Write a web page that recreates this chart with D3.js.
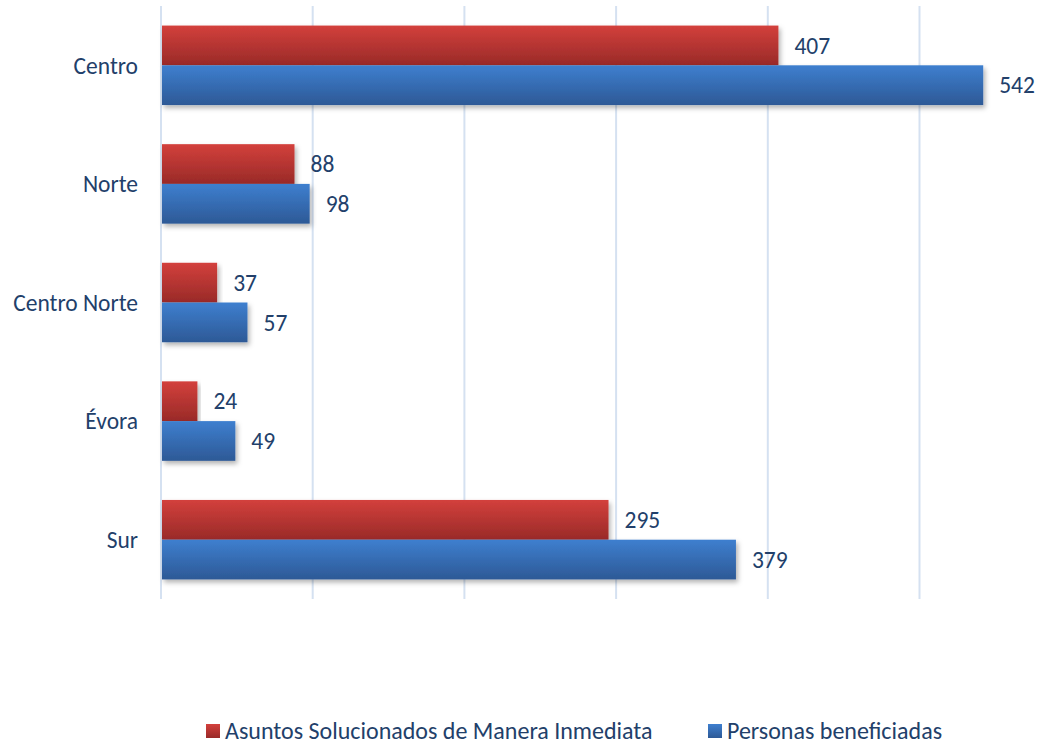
<!DOCTYPE html>
<html>
<head>
<meta charset="utf-8">
<script src="https://cdn.jsdelivr.net/npm/d3@7"></script>
<style>
  body { margin: 0; background: #fff; }
  text { font-family: Carlito, Lato, "Open Sans", sans-serif; fill: #22406a; }
</style>
</head>
<body>
<svg></svg>
<script>
const width = 1060;
const height = 744;

const categories = ['Centro', 'Norte', 'Centro Norte', 'Évora', 'Sur'];
const seriesNames = ['Asuntos Solucionados de Manera Inmediata', 'Personas beneficiadas'];
const asuntos = [407, 88, 37, 24, 295];
const personas = [542, 98, 57, 49, 379];
const gridTicks = [0, 100, 200, 300, 400, 500];

const margin = { top: 6, left: 161, bottom: 145 };

const svg = d3.select('svg')
  .attr('width', width)
  .attr('height', height);

const defs = svg.append('defs');
const grads = [
  { id: 'gRed', top: '#d3403c', bottom: '#992a28' },
  { id: 'gBlue', top: '#3e7fcf', bottom: '#2d5996' }
];
grads.forEach((g) => {
  const lg = defs.append('linearGradient')
    .attr('id', g.id)
    .attr('x1', 0).attr('y1', 0).attr('x2', 0).attr('y2', 1);
  lg.append('stop').attr('offset', '0%').attr('stop-color', g.top);
  lg.append('stop').attr('offset', '100%').attr('stop-color', g.bottom);
});
defs.append('filter')
  .attr('id', 'shadow')
  .attr('x', '-5%').attr('y', '-20%').attr('width', '115%').attr('height', '160%')
  .append('feDropShadow')
  .attr('dx', 2).attr('dy', 3).attr('stdDeviation', 2.5)
  .attr('flood-color', '#000').attr('flood-opacity', 0.3);

const x = d3.scaleLinear()
  .domain([0, 100])
  .range([margin.left, margin.left + 151.7]);

const y = d3.scaleBand()
  .domain(categories)
  .range([margin.top, height - margin.bottom])
  .paddingInner(0.33)
  .paddingOuter(0.165);

const sub = d3.scaleBand()
  .domain([0, 1])
  .range([0, y.bandwidth()]);

// gridlines
svg.append('g')
  .selectAll('line')
  .data(gridTicks)
  .join('line')
  .attr('x1', (d) => x(d))
  .attr('x2', (d) => x(d))
  .attr('y1', margin.top)
  .attr('y2', height - margin.bottom)
  .attr('stroke', '#d5e1f1')
  .attr('stroke-width', 2);

// category labels
svg.append('g')
  .selectAll('text')
  .data(categories)
  .join('text')
  .attr('x', 138)
  .attr('y', (d) => y(d) + y.bandwidth() / 2)
  .attr('dy', '0.35em')
  .attr('text-anchor', 'end')
  .attr('font-size', 23.5)
  .text((d) => d);

const series = [
  { values: asuntos, fill: 'url(#gRed)' },
  { values: personas, fill: 'url(#gBlue)' }
];

series.forEach((s, i) => {
  const g = svg.append('g');
  g.selectAll('rect')
    .data(categories)
    .join('rect')
    .attr('x', x(0) + 1)
    .attr('y', (d) => y(d) + sub(i))
    .attr('width', (d, j) => x(s.values[j]) - x(0) - 1)
    .attr('height', sub.bandwidth())
    .attr('fill', s.fill)
    .attr('filter', 'url(#shadow)');

  g.selectAll('text')
    .data(categories)
    .join('text')
    .attr('x', (d, j) => x(s.values[j]) + 16)
    .attr('y', (d) => y(d) + sub(i) + sub.bandwidth() / 2)
    .attr('dy', '0.35em')
    .attr('font-size', 23.5)
    .text((d, j) => s.values[j]);
});

// legend
const legendX = [206, 708];
const legend = svg.append('g');
seriesNames.forEach((name, i) => {
  legend.append('rect')
    .attr('x', legendX[i])
    .attr('y', 724)
    .attr('width', 14)
    .attr('height', 14)
    .attr('fill', series[i].fill);
  legend.append('text')
    .attr('x', legendX[i] + 19)
    .attr('y', 731)
    .attr('dy', '0.35em')
    .attr('font-size', 24)
    .text(name);
});
</script>
</body>
</html>
